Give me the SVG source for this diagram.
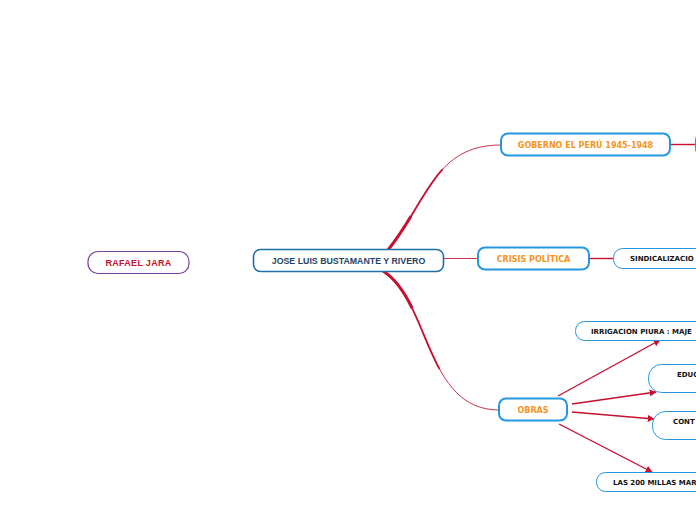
<svg xmlns="http://www.w3.org/2000/svg" width="696" height="520" viewBox="0 0 696 520">
<defs>
<style>
.bg{fill:#ffffff}
.main{fill:#fff;stroke:#1d6fa5;stroke-width:1.6}
.lvl1{fill:#fff;stroke:#2597e0;stroke-width:2}
.lvl2{fill:#fff;stroke:#2597e0;stroke-width:1}
.side{fill:#fff;stroke:#7b3f98;stroke-width:1.2}
.tmain{font-family:"Liberation Sans",Arial,sans-serif;font-weight:bold;font-size:8.8px;fill:#1f4466;text-anchor:middle}
.tside{font-family:"Liberation Sans",Arial,sans-serif;font-weight:bold;font-size:9px;fill:#c8102e;text-anchor:middle;letter-spacing:0.3px}
.t1{font-family:"DejaVu Sans",Verdana,sans-serif;font-weight:bold;font-size:8px;fill:#f7941d;text-anchor:middle}
.t2{font-family:"DejaVu Sans",Verdana,sans-serif;font-weight:bold;font-size:7px;fill:#111}
.conn{fill:none;stroke:#c8102e;stroke-width:1.4}
.thin{fill:none;stroke:#d0304a;stroke-width:1}
.c1{fill:none;stroke:#d0304a;stroke-width:1}
.c2{fill:none;stroke:#c8102e;stroke-width:1.8;stroke-dasharray:60 1000}
.c3{fill:none;stroke:#c8102e;stroke-width:3;stroke-dasharray:25 1000}
</style>
<marker id="arr" viewBox="0 0 10 10" refX="9" refY="5" markerWidth="7" markerHeight="7" markerUnits="userSpaceOnUse" orient="auto">
<path d="M0,0 L10,5 L0,10 Z" fill="#c8102e"/>
</marker>
</defs>
<rect class="bg" x="0" y="0" width="696" height="520"/>
<g id="connectors">
<path class="c1" pathLength="100" d="M388,250 C428,200 435,145 501,145"/>
<path class="c2" pathLength="100" d="M388,250 C428,200 435,145 501,145"/>
<path class="c3" pathLength="100" d="M388,250 C428,200 435,145 501,145"/>
<path class="c1" pathLength="100" d="M383,271 C430,300 425,410 499,410"/>
<path class="c2" pathLength="100" d="M383,271 C430,300 425,410 499,410"/>
<path class="c3" pathLength="100" d="M383,271 C430,300 425,410 499,410"/>
<path class="thin" d="M443,258.5 L478,258.5"/>
<path class="conn" d="M670,144.5 L696,144.5"/>
<path class="conn" d="M589,258.5 L613,258.5"/>
<path class="conn" marker-end="url(#arr)" d="M558,396 L660,340"/>
<path class="conn" marker-end="url(#arr)" d="M572,404 L656,392"/>
<path class="conn" marker-end="url(#arr)" d="M572,412 L654,419"/>
<path class="conn" marker-end="url(#arr)" d="M559,424 L652,472"/>
</g>
<g id="rafael">
<rect class="side" x="88" y="251.5" width="101" height="22" rx="10"/>
<text class="tside" x="138.5" y="265.7">RAFAEL JARA</text>
</g>
<g id="main">
<rect class="main" x="253.5" y="249.5" width="190" height="22" rx="7"/>
<text class="tmain" x="348.5" y="263.7">JOSE LUIS BUSTAMANTE Y RIVERO</text>
</g>
<g id="gobierno">
<rect class="lvl1" x="501" y="133.5" width="169" height="22" rx="7"/>
<text class="t1" x="585.5" y="147.5">GOBERNO EL PERÚ 1945-1948</text>
</g>
<g id="gob-child">
<rect class="lvl1" x="696" y="133.5" width="60" height="22" rx="7"/>
</g>
<g id="crisis">
<rect class="lvl1" x="478" y="247.5" width="111" height="22" rx="7"/>
<text class="t1" x="533.5" y="261.5">CRISIS POLÍTICA</text>
</g>
<g id="sindicalizacion">
<rect class="lvl2" x="613.5" y="248.5" width="120" height="20" rx="9"/>
<text class="t2" x="630" y="261">SINDICALIZACIO</text>
</g>
<g id="obras">
<rect class="lvl1" x="499" y="398.5" width="68" height="22" rx="7"/>
<text class="t1" x="533" y="412.5">OBRAS</text>
</g>
<g id="irrigacion">
<rect class="lvl2" x="575.5" y="321.5" width="160" height="19" rx="9"/>
<text class="t2" x="591" y="333.5">IRRIGACION PIURA : MAJE</text>
</g>
<g id="educ">
<rect class="lvl2" x="648.5" y="364.5" width="90" height="28" rx="13"/>
<text class="t2" x="677" y="377">EDUC</text>
</g>
<g id="cont">
<rect class="lvl2" x="652.5" y="411.5" width="90" height="28" rx="13"/>
<text class="t2" x="673" y="424">CONT</text>
</g>
<g id="millas">
<rect class="lvl2" x="596.5" y="472.5" width="140" height="19" rx="9"/>
<text class="t2" x="613" y="484.5">LAS 200 MILLAS MAR</text>
</g>
</svg>
